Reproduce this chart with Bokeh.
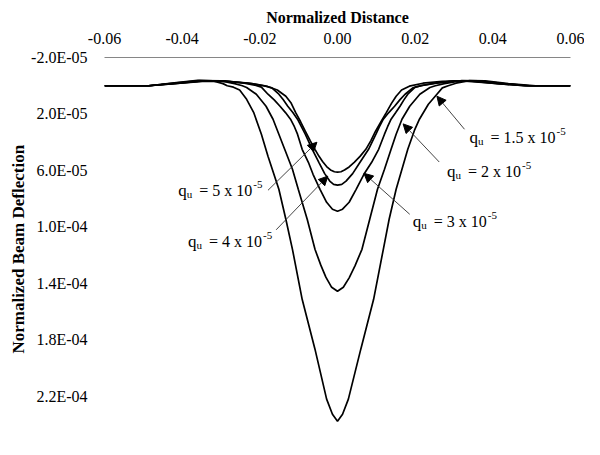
from bokeh.plotting import figure
from bokeh.models import Range1d, FixedTicker, CustomJSTickFormatter, Arrow, NormalHead
from bokeh.core.properties import value
from bokeh.embed import file_html
from bokeh.resources import INLINE

# ---------------- data ----------------
x_ticks = [-0.06, -0.04, -0.02, 0.0, 0.02, 0.04, 0.06]
y_ticks = [-2.0e-05, 2.0e-05, 6.0e-05, 1.0e-04, 1.4e-04, 1.8e-04, 2.2e-04]

# q_u = 5 x 10^-5
x_q5 = [-0.0600, -0.0486, -0.0420, -0.0340, -0.0280, -0.0220, -0.0180, -0.0155, -0.0133, -0.0120,
        -0.0108, -0.0095, -0.0083, -0.0070, -0.0058, -0.0048, -0.0038, -0.0028, -0.0018, -0.0008,
        0.0000, 0.0009, 0.0018, 0.0030, 0.0043, 0.0058, 0.0073, 0.0086, 0.0098, 0.0112,
        0.0126, 0.0139, 0.0151, 0.0165, 0.0185, 0.0220, 0.0270, 0.0320, 0.0400, 0.0480, 0.0600]
y_q5 = [0.0, 0.0, -1.5e-6, -3.2e-6, -3.0e-6, -1.5e-6, 0.5e-6, 3.0e-6, 7.4e-6, 1.2e-5,
        1.88e-5, 2.55e-5, 3.22e-5, 3.90e-5, 4.50e-5, 4.98e-5, 5.38e-5, 5.72e-5, 5.96e-5, 6.09e-5,
        6.12e-5, 6.09e-5, 5.97e-5, 5.75e-5, 5.42e-5, 5.0e-5, 4.50e-5, 3.88e-5, 3.22e-5, 2.55e-5,
        1.88e-5, 1.25e-5, 7.4e-6, 3.0e-6, 0.3e-6, -1.8e-6, -3.2e-6, -3.5e-6, -1.8e-6, 0.0, 0.0]

# q_u = 4 x 10^-5
x_q4 = [-0.0600, -0.0486, -0.0420, -0.0345, -0.0285, -0.0230, -0.0190, -0.0169, -0.0151, -0.0140,
        -0.0128, -0.0115, -0.0103, -0.0093, -0.0083, -0.0065, -0.0048, -0.0033, -0.0020, -0.0010,
        0.0000, 0.0011, 0.0022, 0.0039, 0.0058, 0.0080, 0.0099, 0.0108, 0.0118, 0.0132,
        0.0147, 0.0161, 0.0174, 0.0194, 0.0215, 0.0250, 0.0300, 0.0340, 0.0410, 0.0485, 0.0600]
y_q4 = [0.0, 0.0, -1.5e-6, -3.4e-6, -3.2e-6, -1.8e-6, 0.0, 1.5e-6, 6.0e-6, 9.8e-6,
        1.45e-5, 1.9e-5, 2.37e-5, 2.9e-5, 3.43e-5, 4.5e-5, 5.42e-5, 6.22e-5, 6.75e-5, 6.98e-5,
        7.04e-5, 6.98e-5, 6.75e-5, 6.22e-5, 5.42e-5, 4.5e-5, 3.43e-5, 2.9e-5, 2.37e-5, 1.9e-5,
        1.45e-5, 9.8e-6, 6.0e-6, 1.5e-6, 0.0, -1.8e-6, -3.4e-6, -3.4e-6, -1.5e-6, 0.0, 0.0]

# q_u = 3 x 10^-5
x_q3 = [-0.0600, -0.0486, -0.0420, -0.0350, -0.0290, -0.0240, -0.0210, -0.0196, -0.0179, -0.0163,
        -0.0148, -0.0134, -0.0121, -0.0111, -0.0103, -0.0091, -0.0075, -0.0063, -0.0045, -0.0028,
        -0.0013, 0.0000, 0.0013, 0.0030, 0.0048, 0.0068, 0.0088, 0.0106, 0.0121, 0.0129,
        0.0138, 0.0150, 0.0161, 0.0171, 0.0181, 0.0200, 0.0218, 0.0255, 0.0305, 0.0350, 0.0420,
        0.0490, 0.0600]
y_q3 = [0.0, 0.0, -1.6e-6, -3.5e-6, -3.4e-6, -1.8e-6, -0.3e-6, 1.0e-6, 6.0e-6, 1.0e-5,
        1.45e-5, 1.9e-5, 2.37e-5, 2.9e-5, 3.43e-5, 4.5e-5, 5.42e-5, 6.27e-5, 7.33e-5, 8.25e-5,
        8.74e-5, 8.88e-5, 8.74e-5, 8.25e-5, 7.33e-5, 6.27e-5, 5.42e-5, 4.5e-5, 3.43e-5, 2.9e-5,
        2.37e-5, 1.9e-5, 1.45e-5, 1.0e-5, 6.0e-6, 1.0e-6, -0.3e-6, -1.8e-6, -3.5e-6, -3.4e-6, -1.5e-6,
        0.0, 0.0]

# q_u = 2 x 10^-5
x_q2 = [-0.0600, -0.0486, -0.0420, -0.0355, -0.0300, -0.0265, -0.0245, -0.0234, -0.0209, -0.0184,
        -0.0166, -0.0151, -0.0136, -0.0116, -0.0101, -0.0078, -0.0058, -0.0043, -0.0030, -0.0015,
        0.0000, 0.0015, 0.0030, 0.0045, 0.0063, 0.0083, 0.0103, 0.0121, 0.0138, 0.0151,
        0.0166, 0.0186, 0.0212, 0.0238, 0.0252, 0.0275, 0.0320, 0.0365, 0.0430, 0.0495, 0.0600]
y_q2 = [0.0, 0.0, -1.8e-6, -3.6e-6, -3.4e-6, -1.5e-6, 0.0, 1.2e-6, 6.0e-6, 1.45e-5,
        2.37e-5, 3.43e-5, 4.5e-5, 5.91e-5, 7.33e-5, 9.45e-5, 1.158e-4, 1.27e-4, 1.355e-4, 1.427e-4,
        1.455e-4, 1.427e-4, 1.36e-4, 1.275e-4, 1.158e-4, 9.45e-5, 7.33e-5, 5.91e-5, 4.5e-5, 3.43e-5,
        2.37e-5, 1.45e-5, 6.0e-6, 1.2e-6, 0.0, -1.5e-6, -3.6e-6, -3.4e-6, -1.6e-6, 0.0, 0.0]

# q_u = 1.5 x 10^-5
x_q15 = [-0.0600, -0.0486, -0.0420, -0.0360, -0.0320, -0.0295, -0.0284, -0.0268, -0.0252, -0.0234,
         -0.0216, -0.0196, -0.0179, -0.0151, -0.0133, -0.0116, -0.0091, -0.0058, -0.0028, -0.0013,
         0.0000, 0.0013, 0.0028, 0.0060, 0.0093, 0.0118, 0.0133, 0.0151, 0.0181, 0.0199,
         0.0211, 0.0234, 0.0256, 0.0270, 0.0285, 0.0305, 0.0340, 0.0380, 0.0440, 0.0510, 0.0600]
y_q15 = [0.0, 0.0, -2.0e-6, -3.8e-6, -3.4e-6, -1.5e-6, 0.0, 1.0e-6, 3.0e-6, 9.6e-6,
         1.88e-5, 3.43e-5, 4.99e-5, 7.33e-5, 9.45e-5, 1.158e-4, 1.512e-4, 1.865e-4, 2.219e-4, 2.326e-4,
         2.375e-4, 2.326e-4, 2.219e-4, 1.865e-4, 1.512e-4, 1.158e-4, 9.45e-5, 7.33e-5, 4.5e-5, 3.1e-5,
         2.37e-5, 1.31e-5, 6.0e-6, 1.5e-6, 0.0, -1.8e-6, -3.6e-6, -3.4e-6, -1.5e-6, 0.0, 0.0]

# annotations (one per curve): q value, text anchor, leader start, arrow tip
label_q = ["5", "4", "3", "2", "1.5"]
label_x = [-0.0410, -0.0385, 0.0194, 0.0282, 0.0340]
label_y = [7.40e-5, 1.10e-4, 9.6e-5, 6.05e-5, 3.65e-5]
arrow_x0 = [-0.0179, -0.0158, 0.0186, 0.0262, 0.0327]
arrow_y0 = [7.40e-5, 1.02e-4, 9.1e-5, 5.4e-5, 3.08e-5]
arrow_x1 = [-0.0053, -0.0025, 0.0068, 0.0169, 0.0256]
arrow_y1 = [4.0e-5, 6.4e-5, 6.2e-5, 2.7e-5, 7.4e-6]

# ---------------- figure ----------------
SERIF = "Liberation Serif"

p = figure(width=584, height=433, output_backend="svg", toolbar_location=None,
           x_range=Range1d(-0.06, 0.06), y_range=Range1d(2.455e-4, -2.0e-5),
           x_axis_location="above",
           min_border_left=104, min_border_right=14, min_border_top=57, min_border_bottom=1)
p.grid.visible = False
p.outline_line_color = None
p.background_fill_color = "white"
p.border_fill_color = "white"

xa = p.xaxis[0]
xa.ticker = FixedTicker(ticks=x_ticks)
xa.formatter = CustomJSTickFormatter(code="return tick.toFixed(2);")
xa.axis_line_color = "#868686"
xa.axis_line_width = 1
xa.major_tick_line_color = None
xa.minor_tick_line_color = None
xa.major_tick_out = 0
xa.major_tick_in = 0
xa.minor_tick_out = 0
xa.minor_tick_in = 0
xa.major_label_text_font = SERIF
xa.major_label_text_font_size = "16px"
xa.major_label_text_color = "black"
xa.major_label_standoff = 14
xa.axis_label = "Normalized Distance"
xa.axis_label_text_font = SERIF
xa.axis_label_text_font_style = "bold"
xa.axis_label_text_font_size = "16px"
xa.axis_label_text_color = "black"
xa.axis_label_standoff = 4

ya = p.yaxis[0]
ya.ticker = FixedTicker(ticks=y_ticks)
ya.formatter = CustomJSTickFormatter(code="""
const s = tick.toExponential(1).toUpperCase().split('E');
let e = parseInt(s[1]);
const sign = e < 0 ? '-' : '+';
e = Math.abs(e);
return s[0] + 'E' + sign + (e < 10 ? '0' : '') + e;
""")
ya.axis_line_color = None
ya.major_tick_line_color = None
ya.minor_tick_line_color = None
ya.major_tick_out = 0
ya.major_tick_in = 0
ya.minor_tick_out = 0
ya.minor_tick_in = 0
ya.major_label_text_font = SERIF
ya.major_label_text_font_size = "16px"
ya.major_label_text_color = "black"
ya.major_label_standoff = 17
ya.axis_label = "Normalized  Beam  Deflection"
ya.axis_label_text_font = SERIF
ya.axis_label_text_font_style = "bold"
ya.axis_label_text_font_size = "17px"
ya.axis_label_text_color = "black"
ya.axis_label_standoff = 0

for xs, ys in [(x_q5, y_q5), (x_q4, y_q4), (x_q3, y_q3), (x_q2, y_q2), (x_q15, y_q15)]:
    p.line(xs, ys, line_color="black", line_width=1.7)

for i in range(len(label_q)):
    p.add_layout(Arrow(end=NormalHead(size=9, line_color="black", fill_color="black", line_width=1),
                       x_start=arrow_x0[i], y_start=arrow_y0[i],
                       x_end=arrow_x1[i], y_end=arrow_y1[i],
                       line_color="#303030", line_width=0.9))
    lx, ly = [label_x[i]], [label_y[i]]
    body = "= %s x 10" % label_q[i]
    w_body = 53 if len(label_q[i]) == 1 else 65
    p.text(lx, ly, text=["q"], text_font=value(SERIF), text_font_size="17px",
           text_baseline="middle", text_align="left", text_color="black")
    p.text(lx, ly, text=["u"], x_offset=8.5, y_offset=4, text_font=value(SERIF),
           text_font_size="11px", text_baseline="middle", text_align="left", text_color="black")
    p.text(lx, ly, text=[body], x_offset=21, text_font=value(SERIF), text_font_size="16px",
           text_baseline="middle", text_align="left", text_color="black")
    p.text(lx, ly, text=["-5"], x_offset=21 + w_body + 1, y_offset=-6, text_font=value(SERIF),
           text_font_size="11px", text_baseline="middle", text_align="left", text_color="black")

open("out.html", "w").write(file_html(p, INLINE))
